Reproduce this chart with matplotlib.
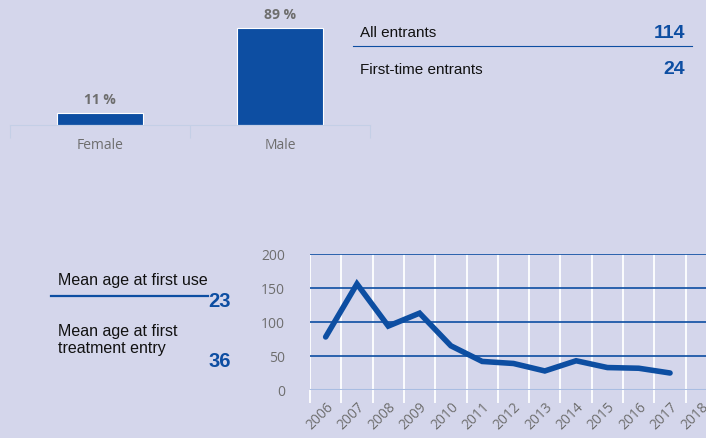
import numpy as np
import matplotlib.pyplot as plt

# --- data ---
sex_labels = ["Female", "Male"]
sex_share = [11, 89]

entrant_labels = ["All entrants", "First-time entrants"]
entrant_counts = [114, 24]

age_labels = ["Mean age at first use", "Mean age at first\ntreatment entry"]
age_values = [23, 36]

years = ["2006", "2007", "2008", "2009", "2010", "2011", "2012",
         "2013", "2014", "2015", "2016", "2017", "2018"]
trend = [78, 156, 94, 113, 65, 42, 39, 28, 43, 33, 32, 25]

BG = "#d4d6eb"
BLUE = "#0d4ea2"
GREY = "#6e6e6e"
W, H = 706, 439

fig = plt.figure(figsize=(W / 100, H / 100), dpi=100, facecolor=BG)


def fx(px):
    return px / W


def fy(py):
    return 1 - py / H


# --- gender bars ---
ax1 = fig.add_axes([fx(10), fy(126), fx(360), 109 / H])
ax1.set_facecolor("none")
x1 = np.arange(len(sex_labels))
ax1.bar(x1, sex_share, width=0.475, color=BLUE, edgecolor="white", linewidth=0.8)
for xi, v in zip(x1, sex_share):
    ax1.text(xi, v + 6, f"{v} %", ha="center", va="bottom", color=GREY,
             fontsize=10, fontweight="bold", family="Open Sans", clip_on=False)
ax1.set_xlim(-0.5, 1.5)
ax1.set_ylim(0, 100)
ax1.set_yticks([])
ax1.set_xticks(x1)
ax1.set_xticklabels(sex_labels, color=GREY, fontsize=10, family="Open Sans")
ax1.tick_params(axis="x", length=0, pad=9)
ax1.set_xticks([-0.5, 0.5, 1.5], minor=True)
ax1.tick_params(axis="x", which="minor", length=9, color="#c4cfe6", width=0.8)
for s in ["top", "left", "right"]:
    ax1.spines[s].set_visible(False)
ax1.spines["bottom"].set_color("#c4cfe6")
ax1.spines["bottom"].set_linewidth(0.8)

# --- entrants table ---
row_y = [33, 70]
for lab, val, yy in zip(entrant_labels, entrant_counts, row_y):
    fig.text(fx(360), fy(yy), lab, ha="left", va="center", fontsize=11,
             family="Liberation Sans", color="#111111")
    fig.text(fx(685), fy(yy), str(val), ha="right", va="center", fontsize=14,
             fontweight="bold", family="Liberation Sans", color=BLUE)
fig.add_artist(plt.Line2D([fx(353), fx(692)], [fy(47), fy(47)], color=BLUE, lw=0.8))

# --- mean ages ---
fig.text(fx(58), fy(281), age_labels[0], ha="left", va="center", fontsize=11.5,
         family="Liberation Sans", color="#111111")
fig.text(fx(58), fy(340), age_labels[1], ha="left", va="center", fontsize=11.5,
         family="Liberation Sans", color="#111111", linespacing=1.15)
fig.add_artist(plt.Line2D([fx(51), fx(208)], [fy(297), fy(297)], color=BLUE, lw=1.6))
for val, yy in zip(age_values, [302, 362]):
    fig.text(fx(231), fy(yy), str(val), ha="right", va="center", fontsize=14.5,
             fontweight="bold", family="Liberation Sans", color=BLUE)

# --- trend line ---
ax2 = fig.add_axes([fx(310), fy(391), 407 / W, 136 / H])
ax2.set_facecolor("none")
xs = np.arange(len(years))
ax2.set_xlim(-0.5, len(years) - 0.5)
ax2.set_ylim(0, 200)
ax2.set_yticks([0, 50, 100, 150, 200])
for yv in [50, 100, 150, 200]:
    ax2.axhline(yv, color=BLUE, lw=1.2, zorder=1)
ax2.axhline(0, color="#a9bde2", lw=2.2, zorder=1)
for xb in np.arange(-0.5, len(years), 1.0):
    ax2.axvline(xb, color="white", lw=1.3, zorder=0.5)
ax2.plot(xs[:len(trend)], trend, color=BLUE, lw=4, solid_capstyle="round",
         solid_joinstyle="miter", zorder=3)
ax2.set_xticks(xs)
ax2.set_xticklabels(years, rotation=45, ha="right", rotation_mode="anchor",
                    color=GREY, fontsize=10, family="Open Sans")
ax2.tick_params(axis="x", length=0, pad=6)
ax2.set_xticks(np.arange(-0.5, len(years), 1.0), minor=True)
ax2.tick_params(axis="x", which="minor", length=9, color="white", width=1.3)
ax2.tick_params(axis="y", length=0, pad=18, labelcolor=GREY, labelsize=10)
for lab in ax2.get_yticklabels():
    lab.set_family("Open Sans")
for s in ax2.spines.values():
    s.set_visible(False)

fig.savefig("out.png", dpi=100, facecolor=BG)
